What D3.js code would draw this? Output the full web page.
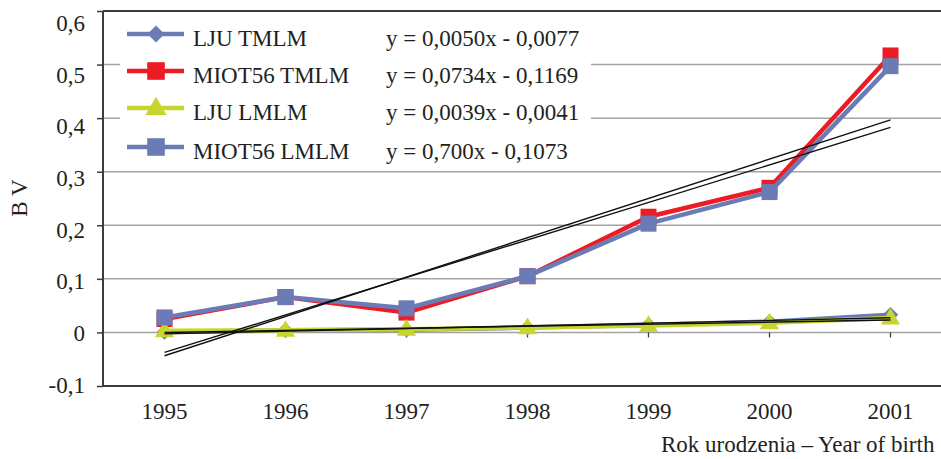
<!DOCTYPE html>
<html>
<head>
<meta charset="utf-8">
<script src="https://cdn.jsdelivr.net/npm/d3@7"></script>
<style>
  html, body { margin: 0; padding: 0; background: #fff; }
  svg { display: block; }
  svg text { font-family: "Liberation Serif", "Times New Roman", Times, "DejaVu Serif", serif; fill: #231f20; }
</style>
</head>
<body>
<svg id="chart" width="941" height="459"></svg>
<script>
// Breeding values by year of birth
const years = ["1995", "1996", "1997", "1998", "1999", "2000", "2001"];
const seriesNames = ["LJU TMLM", "MIOT56 TMLM", "LJU LMLM", "MIOT56 LMLM"];
const ljuTmlm   = [0.001, 0.004, 0.005, 0.009, 0.014, 0.020, 0.033];
const miotTmlm  = [0.025, 0.066, 0.037, 0.105, 0.216, 0.270, 0.517];
const ljuLmlm   = [0.003, 0.004, 0.006, 0.009, 0.013, 0.018, 0.027];
const miotLmlm  = [0.028, 0.066, 0.045, 0.105, 0.203, 0.262, 0.497];

// Linear trend per series (x = 1..7)
const trendSlopes     = [0.0050, 0.0734, 0.0039, 0.0700];
const trendIntercepts = [-0.0077, -0.1169, -0.0041, -0.1073];
const trendLabels = [
  "y = 0,0050x - 0,0077",
  "y = 0,0734x - 0,1169",
  "y = 0,0039x - 0,0041",
  "y = 0,700x - 0,1073"
];

const yTicks = [-0.1, 0, 0.1, 0.2, 0.3, 0.4, 0.5, 0.6];
const yTitle = "B V";
const xTitle = "Rok urodzenia \u2013 Year of birth";

const seriesValues = [ljuTmlm, miotTmlm, ljuLmlm, miotLmlm];
const colors = ["#6b7bb5", "#ed1c24", "#c7d62f", "#6b7bb5"];
const markerKinds = ["diamond", "square", "triangle", "square"];

const FONT = "Liberation Serif, Times New Roman, Times, DejaVu Serif, serif";

const svg = d3.select("#chart");
const W = 941;
const plotLeft = 103, plotTop = 11, plotBottom = 386;

const x = d3.scaleBand().domain(years).range([104, 104 + 121 * years.length]).padding(0);
const cx = d => x(d) + x.bandwidth() / 2;
const y = d3.scaleLinear().domain([-0.1, 0.6]).range([plotBottom, plotTop]);
const labelPos = d3.scaleLinear().domain([-0.1, 0.6]).range([385, 23]);

function markerPath(kind) {
  if (kind === "square") return d3.symbol(d3.symbolSquare, 256)();
  if (kind === "triangle") return d3.symbol(d3.symbolTriangle, 160)();
  return d3.symbol(d3.symbolSquare, 121)();
}
function markerTransform(kind, px, py) {
  if (kind === "diamond") return `translate(${px},${py}) rotate(45)`;
  if (kind === "triangle") return `translate(${px},${py + 1})`;
  return `translate(${px},${py})`;
}

// Horizontal gridlines
svg.append("g").selectAll("line")
  .data(yTicks.filter(v => v > -0.1 && v < 0.6))
  .join("line")
  .attr("x1", plotLeft).attr("x2", W)
  .attr("y1", d => y(d)).attr("y2", d => y(d))
  .attr("stroke", "#a3a3a3").attr("stroke-width", 1.5);

// Plot frame
const frame = svg.append("g").attr("stroke", "#3c3c3c").attr("stroke-width", 2);
frame.append("line").attr("x1", plotLeft).attr("x2", W).attr("y1", plotTop).attr("y2", plotTop);
frame.append("line").attr("x1", plotLeft).attr("x2", W).attr("y1", plotBottom).attr("y2", plotBottom);
frame.append("line").attr("x1", plotLeft).attr("x2", plotLeft).attr("y1", plotTop).attr("y2", plotBottom);

// Y axis
const yAxis = svg.append("g")
  .attr("transform", `translate(${plotLeft},0)`)
  .call(d3.axisLeft(y).tickValues(yTicks).tickSize(6).tickPadding(12)
    .tickFormat(d => d === 0 ? "0" : d.toFixed(1).replace(".", ",")));
yAxis.attr("font-family", FONT).attr("font-size", 23);
yAxis.select(".domain").remove();
yAxis.selectAll(".tick line").attr("stroke", "#3c3c3c").attr("stroke-width", 1.5);
yAxis.selectAll(".tick text")
  .attr("y", d => labelPos(d) - y(d))
  .attr("fill", "#231f20");

// Category tick marks on the zero line
const xTickAxis = svg.append("g")
  .attr("transform", `translate(0,${y(0)})`)
  .call(d3.axisBottom(x).tickSize(5).tickFormat(""));
xTickAxis.select(".domain").remove();
xTickAxis.selectAll(".tick line").attr("stroke", "#3c3c3c").attr("stroke-width", 1.3);

// Category labels below the plot
const xAxis = svg.append("g")
  .attr("transform", `translate(0,${plotBottom})`)
  .call(d3.axisBottom(x).tickSize(0).tickPadding(17));
xAxis.attr("font-family", FONT).attr("font-size", 23);
xAxis.select(".domain").remove();
xAxis.selectAll(".tick text").attr("fill", "#231f20");

// Legend panel (white background hides gridlines behind it)
svg.append("rect").attr("x", 120).attr("y", 14).attr("width", 471).attr("height", 150).attr("fill", "#fff");

// Series lines and markers
const line = d3.line().x((d, i) => cx(years[i])).y(d => y(d));
seriesValues.forEach((vals, s) => {
  const g = svg.append("g");
  g.append("path")
    .attr("d", line(vals))
    .attr("fill", "none")
    .attr("stroke", colors[s])
    .attr("stroke-width", 4.5)
    .attr("stroke-linejoin", "round");
  g.selectAll("path.m")
    .data(vals)
    .join("path")
    .attr("class", "m")
    .attr("d", markerPath(markerKinds[s]))
    .attr("transform", (d, i) => markerTransform(markerKinds[s], cx(years[i]), y(d)))
    .attr("fill", colors[s]);
});

// Trend lines
const first = years[0], last = years[years.length - 1];
svg.append("g").selectAll("line")
  .data(trendSlopes.map((m, i) => ({ m, b: trendIntercepts[i] })))
  .join("line")
  .attr("x1", cx(first)).attr("x2", cx(last))
  .attr("y1", d => y(d.m * 1 + d.b))
  .attr("y2", d => y(d.m * years.length + d.b))
  .attr("stroke", "#111")
  .attr("stroke-width", 1.4);

// Legend entries
const rowY = [34, 71, 108, 147];
const legend = svg.append("g").attr("font-family", FONT).attr("font-size", 23);
seriesNames.forEach((name, s) => {
  const ry = rowY[s];
  const row = legend.append("g");
  row.append("line")
    .attr("x1", 127).attr("x2", 184).attr("y1", ry).attr("y2", ry)
    .attr("stroke", colors[s]).attr("stroke-width", 4.5);
  row.append("path")
    .attr("d", markerPath(markerKinds[s]))
    .attr("transform", markerTransform(markerKinds[s], 156, ry) + " scale(1.1)")
    .attr("fill", colors[s]);
  row.append("text")
    .attr("x", 193).attr("y", ry + 12)
    .text(name);
  row.append("text")
    .attr("x", 386).attr("y", ry + 12)
    .text(trendLabels[s]);
});

// Axis titles
const titles = svg.append("g").attr("font-family", FONT).attr("font-size", 23);
titles.append("text")
  .attr("transform", "translate(27,198) rotate(-90)")
  .attr("text-anchor", "middle")
  .text(yTitle);
titles.append("text")
  .attr("x", 661).attr("y", 452)
  .text(xTitle);
</script>
</body>
</html>
